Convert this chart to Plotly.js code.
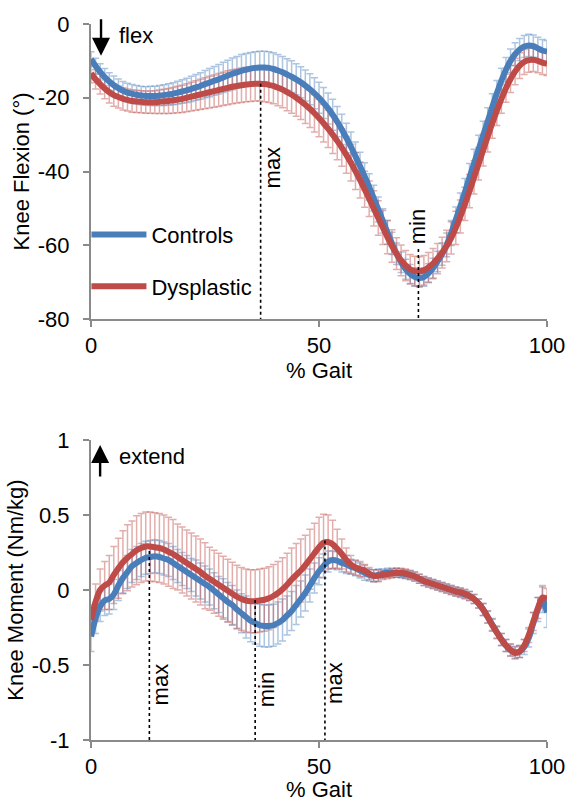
<!DOCTYPE html>
<html>
<head>
<meta charset="utf-8">
<script src="https://cdn.plot.ly/plotly-3.0.1.min.js"></script>
<style>html,body{margin:0;padding:0;background:#fff;}#chart{width:569px;height:802px;}</style>
</head>
<body>
<div id="chart"></div>
<script>
// % gait, 0..100 in 1% steps
const gait = Array.from({length: 101}, (_, i) => i);

// ---- Knee flexion (deg) ----
const flexControls = [
-9.5,-11.4,-13.0,-14.4,-15.6,-16.6,-17.4,-18.1,-18.6,-18.9,
-19.2,-19.4,-19.5,-19.5,-19.5,-19.4,-19.3,-19.1,-18.9,-18.6,
-18.3,-18.0,-17.6,-17.2,-16.8,-16.3,-15.9,-15.4,-15.0,-14.5,
-14.0,-13.5,-13.1,-12.7,-12.4,-12.1,-11.9,-11.8,-11.8,-11.9,
-12.2,-12.6,-13.1,-13.7,-14.3,-15.0,-15.8,-16.7,-17.7,-18.8,
-20.0,-21.4,-22.9,-24.6,-26.5,-28.6,-30.9,-33.3,-35.9,-38.6,
-41.3,-44.2,-47.2,-50.3,-53.4,-56.5,-59.5,-62.3,-64.6,-66.5,
-67.8,-68.6,-68.9,-68.6,-67.6,-66.2,-64.4,-62.4,-59.9,-56.7,
-53.1,-49.4,-45.6,-41.6,-37.8,-34.0,-30.2,-26.4,-22.5,-18.8,
-15.4,-12.4,-10.0,-8.2,-6.9,-6.1,-5.8,-6.0,-6.6,-7.2,
-7.5];
const flexControlsSD = [
2.0,2.1,2.2,2.3,2.4,2.5,2.5,2.5,2.5,2.5,
2.5,2.5,2.5,2.6,2.6,2.7,2.8,2.9,3.0,3.1,
3.2,3.3,3.4,3.5,3.6,3.7,3.8,3.9,4.0,4.1,
4.2,4.3,4.3,4.4,4.4,4.4,4.4,4.4,4.4,4.4,
4.4,4.3,4.3,4.3,4.3,4.2,4.2,4.2,4.2,4.2,
4.2,4.2,4.2,4.2,4.1,4.1,4.0,4.0,3.9,3.8,
3.7,3.6,3.5,3.4,3.3,3.2,3.0,2.9,2.8,2.7,
2.6,2.5,2.5,2.5,2.6,2.7,2.8,3.0,3.2,3.4,
3.5,3.6,3.7,3.8,3.8,3.8,3.8,3.7,3.6,3.5,
3.4,3.3,3.2,3.1,3.0,3.0,3.0,3.0,3.0,3.0,
3.0];
const flexDysplastic = [
-13.4,-15.0,-16.3,-17.5,-18.5,-19.3,-19.8,-20.3,-20.6,-20.9,
-21.0,-21.1,-21.2,-21.2,-21.2,-21.1,-21.0,-20.9,-20.7,-20.5,
-20.3,-20.0,-19.7,-19.4,-19.1,-18.8,-18.5,-18.2,-17.9,-17.6,
-17.3,-17.0,-16.8,-16.6,-16.4,-16.3,-16.2,-16.2,-16.3,-16.5,
-16.8,-17.3,-17.8,-18.5,-19.2,-20.0,-20.9,-21.9,-23.0,-24.2,
-25.5,-26.9,-28.4,-30.0,-31.7,-33.5,-35.5,-37.6,-39.9,-42.3,
-44.8,-47.4,-50.0,-52.6,-55.2,-57.8,-60.2,-62.3,-64.1,-65.5,
-66.5,-67.0,-67.1,-66.8,-66.0,-65.0,-63.6,-62.0,-60.2,-58.0,
-55.3,-52.2,-48.8,-45.3,-41.6,-37.9,-34.2,-30.5,-26.9,-23.5,
-20.3,-17.4,-14.9,-12.9,-11.3,-10.3,-9.8,-9.7,-10.0,-10.5,
-10.8];
const flexDysplasticSD = [
2.5,2.6,2.7,2.8,2.9,3.0,3.0,3.0,3.0,3.0,
3.0,3.0,3.0,3.0,3.1,3.2,3.3,3.4,3.5,3.6,
3.7,3.8,3.9,4.0,4.1,4.2,4.3,4.4,4.5,4.5,
4.6,4.6,4.6,4.7,4.7,4.7,4.7,4.7,4.8,4.8,
4.8,4.9,4.9,5.0,5.0,5.0,5.0,5.1,5.1,5.1,
5.1,5.1,5.1,5.1,5.1,5.1,5.0,5.0,5.0,4.9,
4.9,4.8,4.8,4.7,4.6,4.5,4.4,4.3,4.2,4.1,
4.0,4.0,4.0,4.0,4.0,4.1,4.1,4.2,4.3,4.4,
4.5,4.5,4.5,4.5,4.5,4.4,4.3,4.2,4.1,4.0,
3.9,3.8,3.7,3.6,3.5,3.4,3.3,3.2,3.2,3.2,
3.2];

// ---- Knee moment (Nm/kg) ----
const momControls = [
-0.31,-0.19,-0.11,-0.07,-0.06,-0.03,0.03,0.08,0.12,0.16,
0.18,0.20,0.215,0.22,0.225,0.22,0.21,0.20,0.18,0.16,
0.14,0.12,0.10,0.08,0.06,0.04,0.02,-0.005,-0.03,-0.055,
-0.08,-0.10,-0.13,-0.155,-0.18,-0.205,-0.22,-0.235,-0.24,-0.24,
-0.235,-0.22,-0.20,-0.17,-0.14,-0.10,-0.06,-0.02,0.03,0.08,
0.125,0.16,0.19,0.20,0.195,0.18,0.17,0.155,0.145,0.13,
0.115,0.10,0.095,0.10,0.11,0.115,0.115,0.115,0.11,0.105,
0.10,0.09,0.075,0.06,0.05,0.04,0.03,0.02,0.01,0.00,
-0.01,-0.02,-0.03,-0.04,-0.06,-0.09,-0.13,-0.18,-0.23,-0.28,
-0.33,-0.37,-0.40,-0.415,-0.41,-0.38,-0.32,-0.22,-0.13,-0.06,
-0.15];
const momControlsSD = [
0.10,0.10,0.10,0.10,0.10,0.10,0.10,0.10,0.11,0.11,
0.11,0.11,0.11,0.11,0.11,0.11,0.11,0.11,0.11,0.11,
0.11,0.11,0.11,0.12,0.12,0.12,0.12,0.12,0.12,0.13,
0.13,0.13,0.13,0.13,0.14,0.14,0.14,0.14,0.14,0.14,
0.14,0.14,0.14,0.13,0.13,0.13,0.12,0.12,0.11,0.10,
0.09,0.08,0.07,0.06,0.06,0.06,0.06,0.05,0.05,0.05,
0.05,0.04,0.04,0.04,0.03,0.03,0.03,0.03,0.03,0.03,
0.03,0.03,0.03,0.03,0.03,0.03,0.03,0.03,0.03,0.03,
0.03,0.03,0.03,0.03,0.03,0.03,0.04,0.04,0.04,0.04,
0.04,0.04,0.04,0.04,0.04,0.05,0.06,0.07,0.08,0.09,
0.10];
const momDysplastic = [
-0.20,-0.08,0.00,0.03,0.05,0.10,0.145,0.185,0.215,0.24,
0.265,0.28,0.29,0.29,0.285,0.28,0.27,0.255,0.24,0.22,
0.20,0.18,0.16,0.14,0.12,0.095,0.075,0.055,0.035,0.015,
-0.005,-0.025,-0.045,-0.06,-0.07,-0.075,-0.075,-0.07,-0.065,-0.055,
-0.04,-0.02,0.005,0.035,0.07,0.10,0.13,0.165,0.205,0.245,
0.285,0.315,0.32,0.305,0.275,0.24,0.20,0.17,0.15,0.14,
0.13,0.11,0.095,0.095,0.10,0.105,0.11,0.115,0.115,0.11,
0.10,0.09,0.075,0.06,0.05,0.04,0.03,0.02,0.01,0.00,
-0.01,-0.015,-0.025,-0.04,-0.06,-0.09,-0.13,-0.18,-0.235,-0.285,
-0.33,-0.37,-0.40,-0.42,-0.41,-0.37,-0.30,-0.21,-0.12,-0.05,
-0.06];
const momDysplasticSD = [
0.10,0.12,0.14,0.16,0.18,0.19,0.20,0.21,0.22,0.22,
0.23,0.23,0.23,0.23,0.23,0.23,0.23,0.23,0.23,0.22,
0.22,0.22,0.22,0.22,0.22,0.22,0.21,0.21,0.21,0.21,
0.21,0.21,0.21,0.21,0.21,0.21,0.21,0.21,0.21,0.21,
0.21,0.21,0.21,0.21,0.21,0.21,0.21,0.20,0.20,0.20,
0.20,0.19,0.18,0.16,0.13,0.10,0.08,0.06,0.05,0.05,
0.04,0.04,0.04,0.04,0.03,0.03,0.03,0.03,0.03,0.03,
0.03,0.03,0.03,0.03,0.03,0.03,0.03,0.03,0.03,0.03,
0.03,0.03,0.03,0.03,0.03,0.03,0.04,0.04,0.04,0.04,
0.04,0.04,0.04,0.04,0.04,0.04,0.05,0.06,0.07,0.07,
0.07];

// tick labels (hyphen minus as in the original)
const flexTicks = [0, -20, -40, -60, -80];
const flexTickText = ['0', '-20', '-40', '-60', '-80'];
const momTicks = [1, 0.5, 0, -0.5, -1];
const momTickText = ['1', '0.5', '0', '-0.5', '-1'];
const gaitTicks = [0, 50, 100];
const gaitTickText = ['0', '50', '100'];

// event markers: [gait %, top of dotted line, label]
const flexEvents = [[37.2, -16.2, 'max'], [71.8, -61, 'min']];
const momEvents = [[12.8, 0.26, 'max'], [36.0, -0.067, 'min'], [51.3, 0.33, 'max']];

const BLUE = '#4a7ebb';
const RED = '#be4b48';
const BLUE_EB = 'rgba(74,126,187,0.45)';
const RED_EB = 'rgba(190,75,72,0.45)';
const FONT = 'Liberation Sans, Arial, sans-serif';
const FS = 22;

function ebTrace(y, sd, col, xa, ya) {
  return {x: gait, y: y, type: 'scatter', mode: 'markers', xaxis: xa, yaxis: ya,
    marker: {size: 1, color: 'rgba(0,0,0,0)'}, showlegend: false, hoverinfo: 'skip',
    error_y: {type: 'data', array: sd, visible: true, color: col, thickness: 1.5, width: 3.5}};
}
function lineTrace(y, col, name, xa, ya, legend) {
  return {x: gait, y: y, type: 'scatter', mode: 'lines', name: name, xaxis: xa, yaxis: ya,
    line: {color: col, width: 6, shape: 'spline', smoothing: 0.8}, showlegend: legend, legendgroup: name};
}

const data = [
  ebTrace(flexControls, flexControlsSD, BLUE_EB, 'x', 'y'),
  ebTrace(flexDysplastic, flexDysplasticSD, RED_EB, 'x', 'y'),
  lineTrace(flexControls, BLUE, 'Controls', 'x', 'y', true),
  lineTrace(flexDysplastic, RED, 'Dysplastic', 'x', 'y', true),
  ebTrace(momControls, momControlsSD, BLUE_EB, 'x2', 'y2'),
  ebTrace(momDysplastic, momDysplasticSD, RED_EB, 'x2', 'y2'),
  lineTrace(momControls, BLUE, 'Controls', 'x2', 'y2', false),
  lineTrace(momDysplastic, RED, 'Dysplastic', 'x2', 'y2', false)
];

const txtFont = {family: FONT, size: FS, color: '#000'};
const axisCommon = {
  showline: true, linecolor: '#8a8a8a', linewidth: 2, ticks: 'outside', ticklen: 6,
  tickcolor: '#8a8a8a', tickwidth: 2, showgrid: false, zeroline: false,
  tickfont: txtFont, fixedrange: true
};
const xCommon = Object.assign({}, axisCommon, {
  range: [0, 100], tickmode: 'array', tickvals: gaitTicks, ticktext: gaitTickText,
  ticklabelstandoff: 0,
  title: {text: '% Gait', font: txtFont, standoff: 2}
});
const yCommon = Object.assign({}, axisCommon, {ticklabelstandoff: 9});

const shapes = [];
const annotations = [];
flexEvents.forEach(e => {
  shapes.push({type: 'line', xref: 'x', yref: 'y', x0: e[0], x1: e[0], y0: e[1], y1: -80,
    line: {color: '#000', width: 1.6, dash: 'dot'}});
});
momEvents.forEach(e => {
  shapes.push({type: 'line', xref: 'x2', yref: 'y2', x0: e[0], x1: e[0], y0: e[1], y1: -1,
    line: {color: '#000', width: 1.6, dash: 'dot'}});
});
annotations.push({xref: 'x', yref: 'y', x: flexEvents[0][0], y: -39, xshift: 12, text: flexEvents[0][2],
  textangle: -90, showarrow: false, font: txtFont});
annotations.push({xref: 'x', yref: 'y', x: flexEvents[1][0], y: -55, xshift: -1, text: flexEvents[1][2],
  textangle: -90, showarrow: false, font: txtFont});
annotations.push({xref: 'x2', yref: 'y2', x: momEvents[0][0], y: -0.627, xshift: 11, text: momEvents[0][2],
  textangle: -90, showarrow: false, font: txtFont});
annotations.push({xref: 'x2', yref: 'y2', x: momEvents[1][0], y: -0.667, xshift: 11, text: momEvents[1][2],
  textangle: -90, showarrow: false, font: txtFont});
annotations.push({xref: 'x2', yref: 'y2', x: momEvents[2][0], y: -0.62, xshift: 10, text: momEvents[2][2],
  textangle: -90, showarrow: false, font: txtFont});
// direction arrows
annotations.push({xref: 'x', yref: 'y', x: 2.2, y: -8.6, ax: 0, ay: -38, text: '', showarrow: true,
  arrowhead: 2, arrowsize: 1.5, arrowwidth: 2.4, arrowcolor: '#000'});
annotations.push({xref: 'x', yref: 'y', x: 5.8, y: -3.0, xanchor: 'left', text: 'flex', showarrow: false,
  font: txtFont});
annotations.push({xref: 'x2', yref: 'y2', x: 2.0, y: 0.967, ax: 0, ay: 33, text: '', showarrow: true,
  arrowhead: 2, arrowsize: 1.5, arrowwidth: 2.4, arrowcolor: '#000'});
annotations.push({xref: 'x2', yref: 'y2', x: 5.8, y: 0.893, xanchor: 'left', text: 'extend', showarrow: false,
  font: txtFont});

const layout = {
  width: 569, height: 802,
  margin: {l: 91, r: 22, t: 24, b: 62},
  paper_bgcolor: '#fff', plot_bgcolor: '#fff',
  font: txtFont,
  xaxis: Object.assign({}, xCommon, {domain: [0, 1], anchor: 'y'}),
  yaxis: Object.assign({}, yCommon, {domain: [0.588, 1], anchor: 'x', range: [-80, 0],
    tickmode: 'array', tickvals: flexTicks, ticktext: flexTickText,
    title: {text: 'Knee Flexion (°)', font: txtFont, standoff: 2}}),
  xaxis2: Object.assign({}, xCommon, {domain: [0, 1], anchor: 'y2'}),
  yaxis2: Object.assign({}, yCommon, {domain: [0, 0.419], anchor: 'x2', range: [-1, 1],
    tickmode: 'array', tickvals: momTicks, ticktext: momTickText,
    title: {text: 'Knee Moment (Nm/kg)', font: txtFont, standoff: 2}}),
  showlegend: true,
  legend: {x: -0.01, y: 0.735, xanchor: 'left', yanchor: 'top', bgcolor: 'rgba(0,0,0,0)',
    font: txtFont, traceorder: 'grouped', tracegroupgap: 20, itemwidth: 55},
  shapes: shapes,
  annotations: annotations
};

Plotly.newPlot('chart', data, layout, {displayModeBar: false, staticPlot: true});
</script>
</body>
</html>
